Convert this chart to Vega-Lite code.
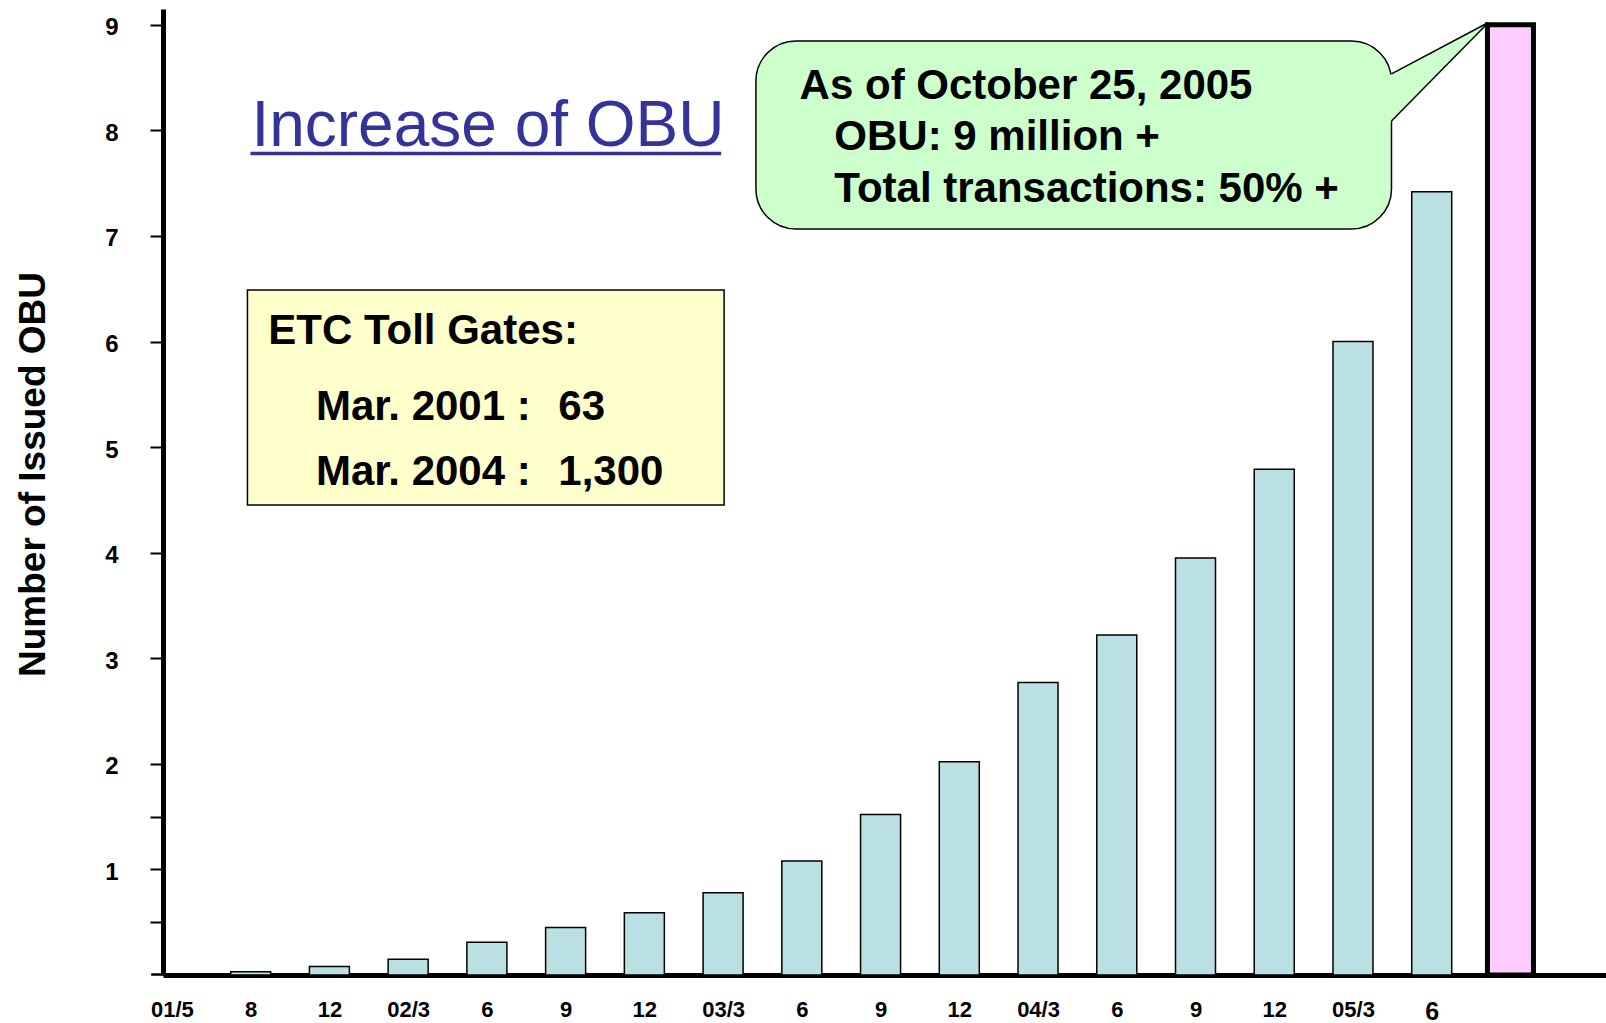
{
  "$schema": "https://vega.github.io/schema/vega-lite/v6.json",
  "width": 1443,
  "height": 966,
  "autosize": {"type": "none"},
  "padding": {"left": 163, "top": 9, "right": 0, "bottom": 48},
  "background": "white",
  "config": {"view": {"stroke": null}, "font": "Liberation Sans"},
  "datasets": {
    "obu": [
      {"idx": 0, "period": "2001-05", "millions": 0.01, "status": "issued"},
      {"idx": 1, "period": "2001-08", "millions": 0.03, "status": "issued"},
      {"idx": 2, "period": "2001-12", "millions": 0.08, "status": "issued"},
      {"idx": 3, "period": "2002-03", "millions": 0.15, "status": "issued"},
      {"idx": 4, "period": "2002-06", "millions": 0.31, "status": "issued"},
      {"idx": 5, "period": "2002-09", "millions": 0.45, "status": "issued"},
      {"idx": 6, "period": "2002-12", "millions": 0.59, "status": "issued"},
      {"idx": 7, "period": "2003-03", "millions": 0.78, "status": "issued"},
      {"idx": 8, "period": "2003-06", "millions": 1.08, "status": "issued"},
      {"idx": 9, "period": "2003-09", "millions": 1.52, "status": "issued"},
      {"idx": 10, "period": "2003-12", "millions": 2.02, "status": "issued"},
      {"idx": 11, "period": "2004-03", "millions": 2.77, "status": "issued"},
      {"idx": 12, "period": "2004-06", "millions": 3.22, "status": "issued"},
      {"idx": 13, "period": "2004-09", "millions": 3.95, "status": "issued"},
      {"idx": 14, "period": "2004-12", "millions": 4.79, "status": "issued"},
      {"idx": 15, "period": "2005-03", "millions": 6.0, "status": "issued"},
      {"idx": 16, "period": "2005-06", "millions": 7.42, "status": "issued"},
      {"idx": 17, "period": "2005-10-25", "millions": 9.0, "status": "current"}
    ],
    "tollBox": [{"x0": 0.959, "x1": 7.013, "y0": 6.489, "y1": 4.452}],
    "bubble": [{"x0": 7.417, "x1": 15.489, "y0": 8.847, "y1": 7.066}],
    "pointerFill": [
      {"x": 15.40, "ylo": 8.020, "yhi": 8.498},
      {"x": 16.72, "ylo": 9.022, "yhi": 9.022}
    ],
    "pointerEdge": [
      {"pt": 1, "x": 15.489, "y": 8.535},
      {"pt": 2, "x": 16.72, "y": 9.022},
      {"pt": 3, "x": 15.489, "y": 8.089}
    ],
    "notes": [
      {"x": 1.224, "y": 5.977, "label": "ETC Toll Gates:"},
      {"x": 1.829, "y": 5.257, "label": "Mar. 2001 :"},
      {"x": 4.907, "y": 5.257, "label": "63"},
      {"x": 1.829, "y": 4.646, "label": "Mar. 2004 :"},
      {"x": 4.907, "y": 4.646, "label": "1,300"},
      {"x": 7.972, "y": 8.293, "label": "As of October 25, 2005"},
      {"x": 8.413, "y": 7.810, "label": "OBU: 9 million +"},
      {"x": 8.413, "y": 7.322, "label": "Total transactions: 50% +"}
    ],
    "heading": [{"x": 1.009, "y": 7.848, "label": "Increase of OBU"}],
    "underline": [{"x0": 0.997, "x1": 6.975, "y": 7.782}]
  },
  "layer": [
    {
      "data": {"name": "obu"},
      "mark": {"type": "bar", "orient": "vertical", "stroke": "black"},
      "encoding": {
        "x": {
          "field": "idx",
          "type": "quantitative",
          "scale": {"domain": [-0.05, 18.15], "nice": false, "zero": false},
          "axis": {
            "values": [0, 1, 2, 3, 4, 5, 6, 7, 8, 9, 10, 11, 12, 13, 14, 15, 16, 17],
            "labelExpr": "['01/5','8','12','02/3','6','9','12','03/3','6','9','12','04/3','6','9','12','05/3','6',''][datum.value]",
            "ticks": false,
            "grid": false,
            "domainColor": "black",
            "domainWidth": 5,
            "labelFont": "Liberation Sans",
            "labelFontWeight": "bold",
            "labelFontSize": {"condition": {"test": "datum.value == 16", "value": 25}, "value": 22},
            "labelColor": "black",
            "labelPadding": 24,
            "labelFlush": false,
            "labelOverlap": false,
            "title": null
          }
        },
        "y": {
          "field": "millions",
          "type": "quantitative",
          "scale": {"domain": [0, 9.15], "nice": false},
          "axis": {
            "values": [0.5, 1, 1.5, 2, 3, 4, 5, 6, 7, 8, 9],
            "labelExpr": "datum.value % 1 == 0 ? format(datum.value, 'd') : ''",
            "grid": false,
            "tickSize": 13,
            "tickWidth": 2,
            "tickColor": "black",
            "domainColor": "black",
            "domainWidth": 5,
            "labelFont": "Liberation Sans",
            "labelFontWeight": "bold",
            "labelFontSize": 24,
            "labelColor": "black",
            "labelPadding": 32,
            "labelOffset": 3,
            "labelFlush": false,
            "title": "Number of Issued OBU",
            "titleFont": "Liberation Sans",
            "titleFontSize": 37,
            "titleFontWeight": "bold",
            "titleColor": "black",
            "titleAngle": -90,
            "titleX": -130,
            "titleY": 465,
            "titleAlign": "center",
            "titleBaseline": "middle"
          }
        },
        "color": {
          "field": "status",
          "type": "nominal",
          "scale": {"domain": ["issued", "current"], "range": ["#BBE0E3", "#FFCCFF"]},
          "legend": null
        },
        "size": {"condition": {"test": "datum.status === 'current'", "value": 46}, "value": 40},
        "strokeWidth": {"condition": {"test": "datum.status === 'current'", "value": 5}, "value": 1.5}
      }
    },
    {
      "data": {"name": "tollBox"},
      "mark": {"type": "rect", "fill": "#FFFFCC", "stroke": "black", "strokeWidth": 1.5},
      "encoding": {
        "x": {"field": "x0", "type": "quantitative"},
        "x2": {"field": "x1"},
        "y": {"field": "y0", "type": "quantitative"},
        "y2": {"field": "y1"}
      }
    },
    {
      "data": {"name": "bubble"},
      "mark": {"type": "rect", "fill": "#CCFFCC", "stroke": "black", "strokeWidth": 1.5, "cornerRadius": 40},
      "encoding": {
        "x": {"field": "x0", "type": "quantitative"},
        "x2": {"field": "x1"},
        "y": {"field": "y0", "type": "quantitative"},
        "y2": {"field": "y1"}
      }
    },
    {
      "data": {"name": "pointerFill"},
      "mark": {"type": "area", "fill": "#CCFFCC", "opacity": 1, "strokeWidth": 0},
      "encoding": {
        "x": {"field": "x", "type": "quantitative"},
        "y": {"field": "ylo", "type": "quantitative"},
        "y2": {"field": "yhi"}
      }
    },
    {
      "data": {"name": "pointerEdge"},
      "mark": {"type": "line", "color": "black", "strokeWidth": 1.5},
      "encoding": {
        "x": {"field": "x", "type": "quantitative"},
        "y": {"field": "y", "type": "quantitative"},
        "order": {"field": "pt", "type": "quantitative"}
      }
    },
    {
      "data": {"name": "notes"},
      "mark": {"type": "text", "align": "left", "baseline": "alphabetic", "font": "Liberation Sans", "fontWeight": "bold", "fontSize": 42, "color": "black"},
      "encoding": {
        "x": {"field": "x", "type": "quantitative"},
        "y": {"field": "y", "type": "quantitative"},
        "text": {"field": "label"}
      }
    },
    {
      "data": {"name": "heading"},
      "mark": {"type": "text", "align": "left", "baseline": "alphabetic", "font": "Liberation Sans", "fontSize": 64, "color": "#333399"},
      "encoding": {
        "x": {"field": "x", "type": "quantitative"},
        "y": {"field": "y", "type": "quantitative"},
        "text": {"field": "label"}
      }
    },
    {
      "data": {"name": "underline"},
      "mark": {"type": "rule", "color": "#333399", "strokeWidth": 3.5},
      "encoding": {
        "x": {"field": "x0", "type": "quantitative"},
        "x2": {"field": "x1"},
        "y": {"field": "y", "type": "quantitative"}
      }
    }
  ]
}
